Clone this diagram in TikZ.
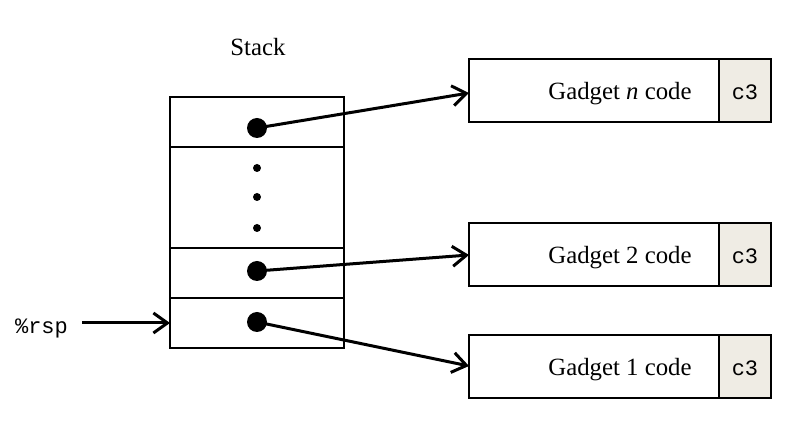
\documentclass[tikz,border=0pt]{standalone}
\usepackage{fontspec}
\setmainfont{Liberation Serif}
\setmonofont{Liberation Mono}
\usetikzlibrary{arrows.meta}
\definecolor{cellbg}{HTML}{EFECE4}
\begin{document}
\begin{tikzpicture}[x=0.5pt,y=-0.5pt,
  cell/.style={draw,line width=1.2pt},
  bigdot/.style={circle,fill=black,inner sep=0pt,minimum size=10pt},
  smalldot/.style={circle,fill=black,inner sep=0pt,minimum size=4pt},
  ptr/.style={line width=1.5pt,-{Straight Barb[length=7pt,width=10pt,line width=1.5pt]}},
  lbl/.style={font=\fontsize{12.4pt}{14pt}\selectfont},
  code/.style={font=\ttfamily\fontsize{11pt}{13pt}\selectfont}]
\useasboundingbox (0,0) rectangle (811,422);
% stack
\draw[cell] (170,97) rectangle (344,348);
\draw[cell] (170,147) -- (344,147);
\draw[cell] (170,248) -- (344,248);
\draw[cell] (170,298) -- (344,298);
\node[lbl] (stack) at (258,47) {Stack};
\node[bigdot] (d3) at (257,128) {};
\node[bigdot] (d2) at (257,271) {};
\node[bigdot] (d1) at (257,322) {};
\node[smalldot] (s1) at (257,168) {};
\node[smalldot] (s2) at (257,197) {};
\node[smalldot] (s3) at (257,228) {};
% gadget boxes
\foreach \nm/\ya/\yb/\txt in {gn/59/122/{Gadget \textit{n} code},g2/223/286/{Gadget 2 code},g1/335/398/{Gadget 1 code}}{
  \fill[cellbg] (719,\ya) rectangle (771,\yb);
  \draw[cell] (469,\ya) rectangle (771,\yb);
  \draw[cell] (719,\ya) -- (719,\yb);
  \coordinate (\nm) at (469,{(\ya+\yb)/2});
  \node[lbl] (\nm t) at (620,{(\ya+\yb)/2+3}) {\txt};
  \node[code] (\nm c) at (745,{(\ya+\yb)/2+2}) {c3};
}
\coordinate (gnin) at (469,93);
\coordinate (g2in) at (469,255);
\coordinate (g1in) at (469,366);
\draw[ptr] (d3.center) -- (gnin);
\draw[ptr] (d2.center) -- (g2in);
\draw[ptr] (d1.center) -- (g1in);
% rsp
\node[code,anchor=west] (rsp) at (8,328) {\%rsp};
\coordinate (rspa) at (82,323);
\coordinate (rspb) at (170,323);
\draw[ptr] (rspa) -- (rspb);
\end{tikzpicture}
\end{document}
